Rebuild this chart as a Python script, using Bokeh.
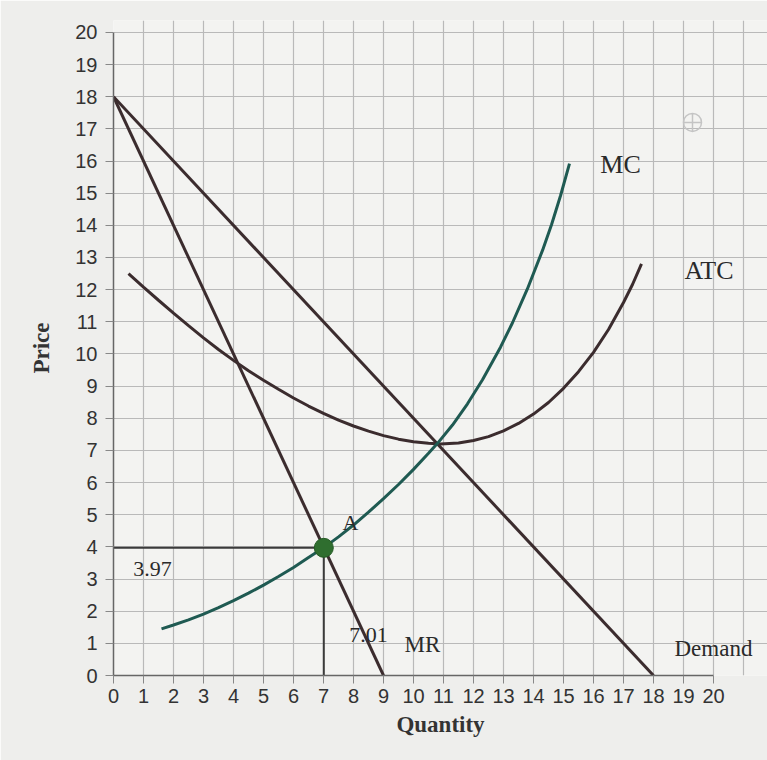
from bokeh.plotting import figure
from bokeh.models import Range1d, FixedTicker, Label
from bokeh.embed import file_html
from bokeh.resources import INLINE

# ---- data ----
demand_q = [0, 18]
demand_p = [18, 0]

mr_q = [0, 9]
mr_p = [18, 0]

mc_q = [1.6, 2.0, 2.5, 3.0, 3.5, 4.0, 4.5, 5.0, 5.5, 6.0, 6.5, 7.0, 7.5, 8.0, 8.5, 9.0, 9.5,
        10.0, 10.5, 10.8, 11.3, 11.8, 12.3, 12.9, 13.3, 13.8, 14.3, 14.6, 14.9, 15.2]
mc_p = [1.45, 1.57, 1.73, 1.91, 2.11, 2.33, 2.56, 2.81, 3.08, 3.36, 3.67, 3.97, 4.31, 4.68, 5.08, 5.50, 5.94,
        6.41, 6.91, 7.22, 7.79, 8.45, 9.20, 10.21, 10.97, 12.03, 13.22, 14.02, 14.92, 15.92]

atc_q = [0.5, 1.0, 1.5, 2.0, 2.5, 3.0, 3.5, 4.0, 4.5, 5.0, 5.5, 6.0, 6.5, 7.0, 7.5, 8.0, 8.5, 9.0, 9.5,
         10.0, 10.5, 10.9, 11.5, 12.0, 12.5, 13.0, 13.5, 14.0, 14.5, 15.0, 15.5, 16.0, 16.5, 17.0, 17.3, 17.6]
atc_p = [12.5, 12.08, 11.67, 11.27, 10.88, 10.5, 10.14, 9.8, 9.48, 9.18, 8.9, 8.63, 8.38, 8.15, 7.94, 7.76, 7.6, 7.46, 7.35,
         7.27, 7.22, 7.2, 7.23, 7.31, 7.43, 7.61, 7.84, 8.13, 8.49, 8.93, 9.45, 10.05, 10.76, 11.6, 12.16, 12.8]

opt_q = 7.01
opt_p = 3.97

ticks = list(range(0, 21))

serif = "Liberation Serif"
sans = "Liberation Sans"

p = figure(width=767, height=760, output_backend="svg", toolbar_location=None,
           x_range=Range1d(0, 21.8), y_range=Range1d(0, 20.37),
           min_border_left=113, min_border_right=0, min_border_top=20, min_border_bottom=85,
           background_fill_color="#f3f3f1", border_fill_color="#eeeeec")
p.outline_line_color = None

for ax in (p.xaxis, p.yaxis):
    ax.ticker = FixedTicker(ticks=ticks)
    ax.bounds = (0, 20)
    ax.axis_line_color = "#666666"
    ax.axis_line_width = 1.5
    ax.major_tick_line_color = "#888888"
    ax.major_tick_out = 8
    ax.major_tick_in = 0
    ax.minor_tick_line_color = None
    ax.major_label_text_font = sans
    ax.major_label_text_font_size = "20px"
    ax.major_label_text_color = "#333333"
    ax.axis_label_text_font = serif
    ax.axis_label_text_font_size = "23px"
    ax.axis_label_text_font_style = "bold"
    ax.axis_label_text_color = "#333333"

p.xaxis.axis_label = "Quantity"
p.yaxis.axis_label = "Price"
p.xaxis.major_label_standoff = 5
p.xaxis.axis_label_standoff = 6
p.yaxis.major_label_standoff = 8
p.yaxis.axis_label_standoff = 18

for g in (p.xgrid, p.ygrid):
    g.ticker = FixedTicker(ticks=list(range(0, 23)))
    g.grid_line_color = "#b9b9b9"
    g.grid_line_width = 1.2

dark = "#3b2c2e"
teal = "#1f5a52"

p.line(demand_q, demand_p, line_color=dark, line_width=3)
p.line(mr_q, mr_p, line_color=dark, line_width=3)
p.line(atc_q, atc_p, line_color=dark, line_width=3)
p.line(mc_q, mc_p, line_color=teal, line_width=3)

p.line([0, opt_q], [opt_p, opt_p], line_color="#3a3a3a", line_width=2)
p.line([opt_q, opt_q], [0, opt_p], line_color="#3a3a3a", line_width=2)
p.scatter([opt_q], [opt_p], size=19, fill_color="#2f6e2f", line_color="#245a24")

p.scatter([19.3], [17.2], marker="circle_cross", size=18, fill_color=None,
          line_color="#c4c4c4", line_width=1.5)

def lab(x, y, t, size="22px", align="center"):
    p.add_layout(Label(x=x, y=y, text=t, text_font=serif, text_font_size=size,
                       text_color="#2a2a2a", text_align=align, text_baseline="middle"))

lab(16.9, 15.9, "MC", "26px")
lab(19.85, 12.6, "ATC", "26px")
lab(7.9, 4.75, "A", "22px")
lab(1.3, 3.3, "3.97", "22px")
lab(8.5, 1.25, "7.01", "22px")
lab(10.3, 0.95, "MR", "23px")
lab(18.7, 0.85, "Demand", "23px", align="left")

open("out.html", "w").write(file_html(p, INLINE))
